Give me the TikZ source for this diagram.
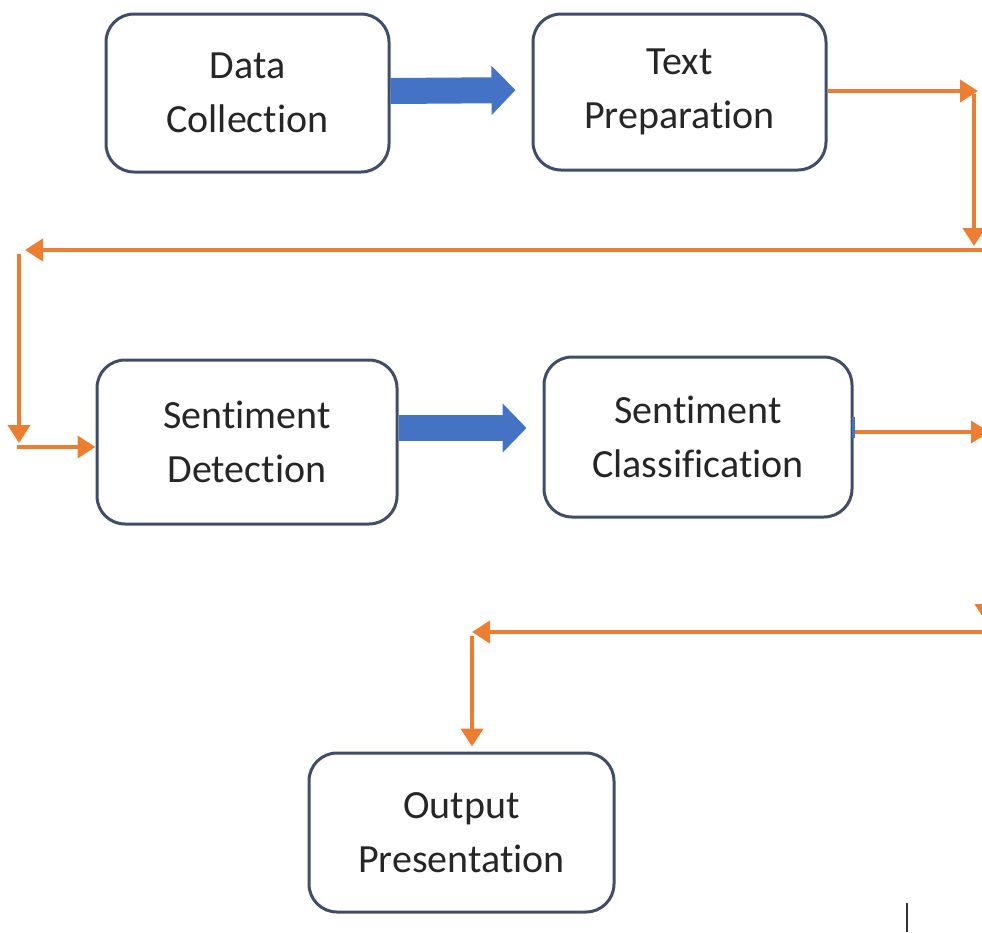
\documentclass[tikz,border=0pt]{standalone}
\usepackage{fontspec}
\setmainfont{Carlito}[RawFeature={-liga;-clig;-calt;-dlig}]
\usetikzlibrary{arrows.meta,calc}
\definecolor{boxline}{HTML}{3F4E66}
\definecolor{flowblue}{HTML}{4472C4}
\definecolor{floworange}{HTML}{ED7D31}
\definecolor{inktext}{HTML}{262626}
\tikzset{
  stagebox/.style={draw=boxline, line width=3pt, rounded corners=28pt, fill=white,
    align=center, font=\fontsize{40}{54}\selectfont, text=inktext, inner sep=0pt},
  blockarrow/.style={draw=flowblue, line width=26pt,
    -{Triangle[length=24pt,width=48pt]}},
  flowarrow/.style={draw=floworange, line width=4pt,
    -{Triangle[length=18pt,width=22pt]}},
  flowline/.style={draw=floworange, line width=4pt}
}
\begin{document}
\begin{tikzpicture}[x=1pt,y=-1pt]
\useasboundingbox (0,0) rectangle (982,932);

% pipeline stages
\node[stagebox, minimum width=283pt, minimum height=158pt] (dc) at (247.5,93) {Data\\Collection};
\node[stagebox, minimum width=293pt, minimum height=156pt] (tp) at (679.5,92) {Text\\Preparation};
\node[stagebox, minimum width=300pt, minimum height=164pt] (sd) at (247,442) {Sentiment\\Detection};
\node[stagebox, minimum width=308pt, minimum height=160pt] (sc) at (698,437) {Sentiment\\Classification};
\node[stagebox, minimum width=305pt, minimum height=159pt] (op) at (461.5,832.5) {Output\\Presentation};

% block arrows between neighbouring stages
\draw[blockarrow, shorten >=16pt] ([yshift=2pt]dc.east) -- ([yshift=2pt]tp.west);
\draw[blockarrow, shorten >=16pt] ([yshift=14pt]sd.east) -- ([yshift=9pt]sc.west);

% routing points of the return path
\coordinate (r1) at (978,91);
\coordinate (r2a) at (974,94);
\coordinate (r2b) at (974,246);
\coordinate (r3a) at (984,250);
\coordinate (r3b) at (25,250);
\coordinate (r4a) at (19,254);
\coordinate (r4b) at (19,443);
\coordinate (r5) at (17,447);
\coordinate (r6) at (989,432);
\coordinate (r7a) at (986,560);
\coordinate (r7b) at (986,622);
\coordinate (r8a) at (984,632);
\coordinate (r8b) at (472,632);
\coordinate (r9) at (472,636);

% orange return path
\draw[flowarrow] ([yshift=1pt]tp.east) -- (r1);
\draw[flowarrow] (r2a) -- (r2b);
\draw[flowarrow] (r3a) -- (r3b);
\draw[flowarrow] (r4a) -- (r4b);
\draw[flowarrow] (r5) -- ([yshift=-5pt]sd.west);
\draw[flowarrow] ([yshift=5pt]sc.east) -- (r6);
\draw[flowarrow] (r7a) -- (r7b);
\draw[flowarrow] (r8a) -- (r8b);
\draw[flowarrow, shorten >=5pt] (r9) -- ([xshift=10.5pt]op.north);

% highlight on the classification border
\draw[flowblue, line width=3pt] ([yshift=20pt]sc.east) -- ([yshift=-1pt]sc.east);

% small mark at the bottom
\coordinate (m1) at (907,903);
\coordinate (m2) at (907,932);
\draw[black!80, line width=2pt] (m1) -- (m2);
\end{tikzpicture}
\end{document}
